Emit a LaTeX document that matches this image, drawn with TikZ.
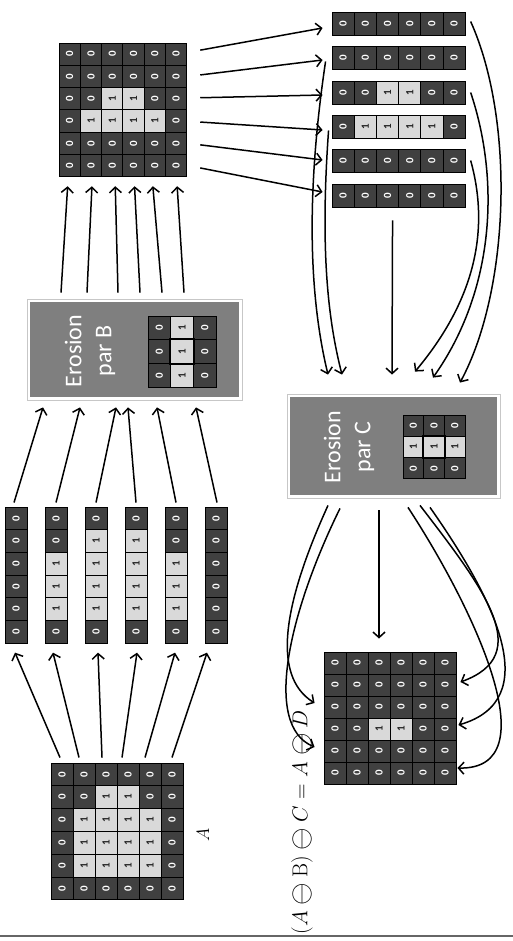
\documentclass[tikz,border=0pt]{standalone}
\usepackage{fix-cm}
\usepackage{fontspec}
\usepackage{graphicx}
\usetikzlibrary{arrows.meta}
\newfontfamily\carlito{Carlito}
\definecolor{darkcell}{HTML}{404040}
\definecolor{lightcell}{HTML}{D9D9D9}
\definecolor{boxgray}{HTML}{7F7F7F}
\colorlet{fill0}{darkcell}\colorlet{fill1}{lightcell}
\colorlet{txt0}{white}\colorlet{txt1}{black!85}
\tikzset{
  cellbox/.style={rectangle, draw=black, line width=0.9pt, inner sep=0pt,
    font=\carlito\bfseries\fontsize{11}{11}\selectfont},
  arr/.style={-{Straight Barb[length=5.5pt,width=12pt]}, line width=1.5pt},
  ebox/.style={rectangle, fill=white, draw=black!22, line width=0.8pt, inner sep=0pt},
  etext/.style={rotate=90, text=white, align=center, font=\carlito\fontsize{24}{30}\selectfont},
}
\newcommand\mkgrid[6]{%
  \foreach \rowvals [count=\ri] in {#6} {
    \foreach \v [count=\ci] in \rowvals {
      \node[cellbox, fill=fill\v, text=txt\v, minimum width=#4pt, minimum height=#5pt]
        (#1-\ri-\ci) at ({#2+(\ci-0.5)*#4},{#3+(\ri-0.5)*#5}) {\rotatebox{90}{\v}};
    }
  }
}
\newcommand\opsp{\mskip 0.5mu}
\newcommand\bigom{\mathbin{\vcenter{\hbox{\scalebox{1.35}{$\ominus$}}}}}
\begin{document}
\begin{tikzpicture}[x=1pt,y=-1pt]
\useasboundingbox (0,0) rectangle (513,941);
% bottom rule
\draw[black!60, line width=1.5pt] (0,936) -- (513,936);

% grid A
\mkgrid{A}{51}{763}{22}{22.8}{{0,0,0,0,0,0},{0,0,1,1,0,0},{0,1,1,1,1,0},{0,1,1,1,1,0},{0,1,1,1,1,0},{0,0,0,0,0,0}}
\node[rotate=90, font=\fontsize{18}{20}\selectfont] (lblA) at (203,835) {$A$};

% columns
\mkgrid{K1}{5}{507}{22}{22.7}{{0},{0},{0},{0},{0},{0}}
\mkgrid{K2}{45}{507}{22}{22.7}{{0},{0},{1},{1},{1},{0}}
\mkgrid{K3}{85}{507}{22}{22.7}{{0},{1},{1},{1},{1},{0}}
\mkgrid{K4}{125}{507}{22}{22.7}{{0},{1},{1},{1},{1},{0}}
\mkgrid{K5}{165}{507}{22}{22.7}{{0},{0},{1},{1},{1},{0}}
\mkgrid{K6}{205}{507}{22}{22.7}{{0},{0},{0},{0},{0},{0}}

% box B
\node[ebox, minimum width=215pt, minimum height=101pt] (Bbox) at (134.5,349.5) {};
\fill[boxgray] ([shift={(3pt,3pt)}]Bbox.south west) rectangle ([shift={(-3pt,-3pt)}]Bbox.north east);
\node[etext] (Btext) at (90,351) {Erosion\\par B};
\mkgrid{SB}{148}{316}{22.7}{23.7}{{0,1,0},{0,1,0},{0,1,0}}
\draw[line width=2pt] (SB-2-2.south west) rectangle (SB-2-2.north east);

% grid after B
\mkgrid{G}{59}{43}{21.3}{22.3}{{0,0,0,0,0,0},{0,0,0,0,0,0},{0,0,1,1,0,0},{0,1,1,1,1,0},{0,0,0,0,0,0},{0,0,0,0,0,0}}

% rows
\mkgrid{R1}{332}{12}{22.2}{23}{{0,0,0,0,0,0}}
\mkgrid{R2}{332}{46}{22.2}{23}{{0,0,0,0,0,0}}
\mkgrid{R3}{332}{81}{22.2}{23}{{0,0,1,1,0,0}}
\mkgrid{R4}{332}{115}{22.2}{23}{{0,1,1,1,1,0}}
\mkgrid{R5}{332}{149}{22.2}{23}{{0,0,0,0,0,0}}
\mkgrid{R6}{332}{184}{22.2}{23}{{0,0,0,0,0,0}}

% box C
\node[ebox, minimum width=213pt, minimum height=104pt] (Cbox) at (393.5,446) {};
\fill[boxgray] ([shift={(3pt,3pt)}]Cbox.south west) rectangle ([shift={(-3pt,-3pt)}]Cbox.north east);
\node[etext] (Ctext) at (349,447) {Erosion\\par C};
\mkgrid{SC}{403}{415}{20.7}{21.3}{{0,0,0},{1,1,1},{0,0,0}}
\draw[line width=2pt] (SC-2-2.south west) rectangle (SC-2-2.north east);

% final grid
\mkgrid{F}{324}{652}{22}{22}{{0,0,0,0,0,0},{0,0,0,0,0,0},{0,0,0,0,0,0},{0,0,1,1,0,0},{0,0,0,0,0,0},{0,0,0,0,0,0}}
\node[rotate=90, font=\fontsize{21.5}{24}\selectfont] (eq) at (302,822)
  {$(A\opsp\bigom\opsp \mathrm{B})\opsp\bigom\opsp C\opsp=\opsp A\opsp\bigom\opsp D$};

% arrows A -> columns
\foreach \c/\sx/\ex in {1/-2/-1, 2/-5/-3, 3/-4/2, 4/-6/1, 5/-5/-1, 6/0/-9}
  \draw[arr] ([xshift=\sx pt,yshift=5pt]A-1-\c.north) -- ([xshift=\ex pt,yshift=-9pt]K\c-6-1.south);
% columns -> box B
\foreach \c/\sx/\ex in {1/-2/-91.5, 2/0/-54.5, 3/0/-18.5, 4/0/-6.5, 5/0/22.5, 6/1/61.5}
  \draw[arr] ([xshift=\sx pt,yshift=4pt]K\c-1-1.north) -- ([xshift=\ex pt,yshift=-7pt]Bbox.south);
% box B -> grid G
\foreach \c/\sx/\ex in {1/-73.5/-2, 2/-47.5/1, 3/-16.5/3, 4/5.5/1, 5/27.5/-2, 6/49.5/1}
  \draw[arr] ([xshift=\sx pt,yshift=6pt]Bbox.north) -- ([xshift=\ex pt,yshift=-9pt]G-6-\c.south);
% grid G -> rows
\foreach \r/\sy/\ey in {1/4/-4.5, 2/1.5/-2.5, 3/1/-2.5, 4/-1/-3.5, 5/-1.5/0.5, 6/-2.3/3.5}
  \draw[arr] ([xshift=13pt,yshift=\sy pt]G-\r-6.east) -- ([xshift=-9pt,yshift=\ey pt]R\r-1-1.west);

% rows -> box C
\draw[arr] ([xshift=-6pt,yshift=-4pt]R2-1-1.west) .. controls (305,200) and (310,300) .. ([xshift=-65.5pt,yshift=19pt]Cbox.north);
\draw[arr] ([xshift=-3pt,yshift=-4pt]R4-1-1.west) .. controls (320,250) and (328,320) .. ([xshift=-51.5pt,yshift=19pt]Cbox.north);
\draw[arr] ([xshift=-6.5pt,yshift=-13pt]R6-1-3.south east) -- ([xshift=-1.5pt,yshift=19pt]Cbox.north);
\draw[arr] ([xshift=5pt,yshift=2pt]R1-1-6.east) .. controls (515,120) and (510,290) .. ([xshift=66.5pt,yshift=11pt]Cbox.north);
\draw[arr] ([xshift=5pt]R3-1-6.east) .. controls (500,180) and (495,290) .. ([xshift=39.5pt,yshift=16pt]Cbox.north);
\draw[arr] ([xshift=5pt]R5-1-6.east) .. controls (490,230) and (475,300) .. ([xshift=21.5pt,yshift=22pt]Cbox.north);

% box C -> final grid
\draw[arr] ([xshift=-14.5pt,yshift=-12pt]Cbox.south) -- ([yshift=13pt]F-1-3.north);
\draw[arr] ([xshift=-65.5pt,yshift=-7pt]Cbox.south) .. controls (285,600) and (270,675) .. ([xshift=-9pt,yshift=4pt]F-3-1.west);
\draw[arr] ([xshift=-53.5pt,yshift=-10pt]Cbox.south) .. controls (290,610) and (262,725) .. ([xshift=-9pt,yshift=4pt]F-5-1.west);
\draw[arr] ([xshift=14.5pt,yshift=-9pt]Cbox.south) .. controls (475,610) and (550,770) .. ([xshift=1pt,yshift=5pt]F-6-6.east);
\draw[arr] ([xshift=26.5pt,yshift=-7pt]Cbox.south) .. controls (485,590) and (535,655) .. ([xshift=4pt,yshift=3pt]F-2-6.east);
\draw[arr] ([xshift=36.5pt,yshift=-9pt]Cbox.south) .. controls (495,600) and (545,700) .. ([xshift=2pt,yshift=4pt]F-4-6.east);
\end{tikzpicture}
\end{document}
